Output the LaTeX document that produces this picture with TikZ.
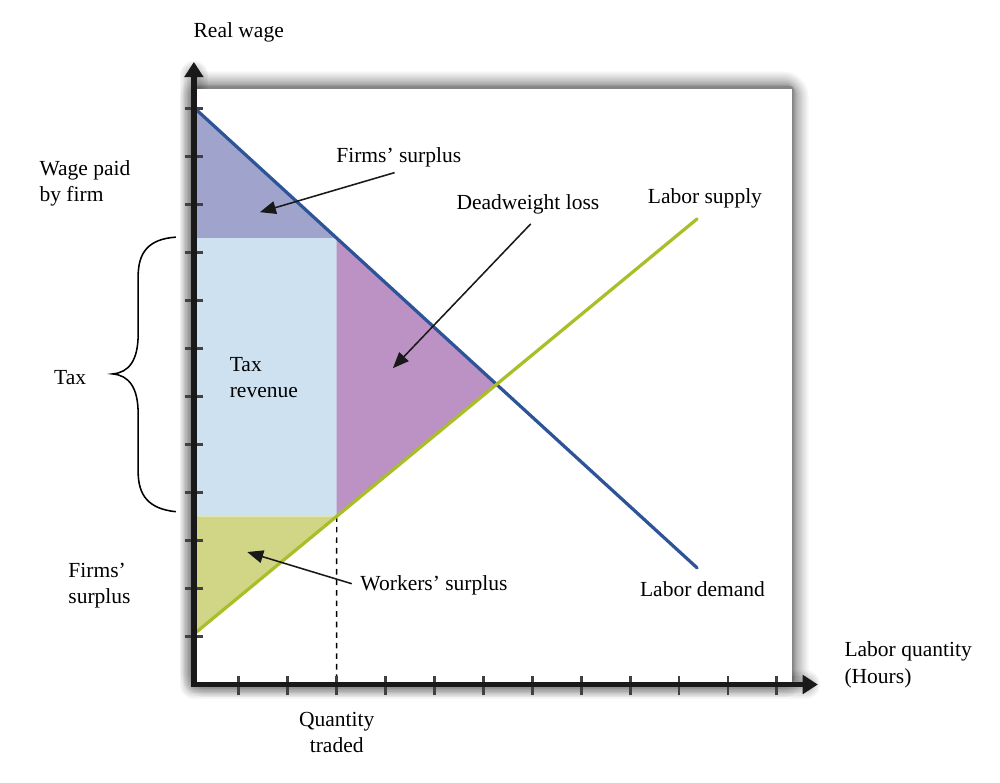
\documentclass[tikz,border=0pt]{standalone}
\usepackage{fontspec}
\setmainfont{Liberation Serif}
\usepackage{tikz}
\usetikzlibrary{positioning}
\usetikzlibrary{calc}
\usetikzlibrary{arrows.meta}
\usepackage{xcolor}

\definecolor{demandblue}{RGB}{46,84,152}
\definecolor{supplygreen}{RGB}{170,190,40}
\definecolor{firmfill}{RGB}{160,164,205}
\definecolor{taxfill}{RGB}{206,225,240}
\definecolor{dwlfill}{RGB}{188,145,195}
\definecolor{workfill}{RGB}{209,214,134}

\tikzset{
    axis/.style={line width=4pt, black!90, -{Triangle[length=3.8mm,width=4.6mm]}},
    tickmark/.style={line width=2pt, black!75},
    curve/.style={line width=2.3pt, line cap=round},
    lbl/.style={inner sep=1pt, font=\fontsize{15.3}{18.5}\selectfont},
    pointer/.style={line width=1.1pt, black!90, -{Triangle[length=4mm,width=3.2mm]}},
}

\begin{document}
\begin{tikzpicture}[x=1.2225cm, y=1.2cm]
        \useasboundingbox (-3.885,-2.031) rectangle (16.564,14.26);
        % glow round the axes and shadow of the plot box
        \foreach \w in {1,...,8}
            \draw[black, opacity=.035, line width=4pt+\w*2pt, line cap=round] (.08,0) -- (.08,12.7) (.08,0) -- (12.6,0);
        \coordinate (bsw) at (.08,0);
        \coordinate (bne) at (12.31,12.41);
        \foreach \k in {1,...,16}
            \fill[black, opacity=.04, rounded corners=\k*.4mm] ($(bsw)+(.03-\k*\k*.0012,.05-\k*\k*.0012)$) rectangle ($(bne)+(.03+\k*\k*.0012,.05+\k*\k*.0012)$);
        \fill[white] (bsw) rectangle (bne);

        % curves and the points on them
        \coordinate (d0) at (.08,12.02);
        \coordinate (d1) at (10.37,2.43);
        \coordinate (s0) at (.08,1.05);
        \coordinate (s1) at (10.37,9.7);
        \coordinate (q0) at (3,0);
        \coordinate (q1) at (3,12);
        \coordinate (eq) at (intersection of d0--d1 and s0--s1);
        \coordinate (wd) at (intersection of d0--d1 and q0--q1);
        \coordinate (ws) at (intersection of s0--s1 and q0--q1);

        \fill[firmfill] (d0) -- (wd) -- (wd -| bsw) -- cycle;
        \fill[taxfill] (wd -| bsw) rectangle (ws);
        \fill[dwlfill] (wd) -- (eq) -- (ws) -- cycle;
        \fill[workfill] (ws -| bsw) -- (ws) -- (s0) -- cycle;
        \draw[line width=1pt, dash pattern=on 4pt off 3.5pt] (ws) -- (q0);

        \foreach \i in {1,...,12}
        {
            \draw[tickmark] (-.1,\i) -- (.26,\i);
            \draw[tickmark] (\i,-.22) -- (\i,.18);
        }
        \draw[curve, demandblue] (d0) -- (d1);
        \draw[curve, supplygreen] (s0) -- (s1);
        \draw[axis] (.08,-.05) -- (.08,12.97);
        \draw[axis] (.03,0) -- (12.84,0);

        % brace for the tax
        \draw[line width=1.1pt] (-.29,9.32) .. controls (-.85,9.28) and (-1.06,9.0) .. (-1.06,8.5)
            -- (-1.06,7.3) .. controls (-1.06,6.75) and (-1.25,6.5) .. (-1.58,6.47)
            .. controls (-1.25,6.44) and (-1.06,6.19) .. (-1.06,5.64)
            -- (-1.06,4.44) .. controls (-1.06,3.94) and (-.85,3.66) .. (-.29,3.6);

        % labels
        \node[lbl, anchor=west] (ylab) at (.04,13.59) {Real wage};
        \node[lbl, anchor=west, align=left] (paidlab) at (-3.11,10.44) {Wage paid\\by firm};
        \node[lbl] (fslab) at (4.27,10.99) {Firms’ surplus};
        \node[lbl] (dwlab) at (6.91,10.01) {Deadweight loss};
        \node[lbl] (lslab) at (10.53,10.13) {Labor supply};
        \node[lbl] (ldlab) at (10.48,1.99) {Labor demand};
        \node[lbl] (wslab) at (4.99,2.07) {Workers’ surplus};
        \node[lbl] (taxlab) at (-2.45,6.39) {Tax};
        \node[lbl, anchor=west, align=left] (trlab) at (.78,6.39) {Tax\\revenue};
        \node[lbl, anchor=west, align=left] (fs2lab) at (-2.52,2.07) {Firms’\\surplus};
        \node[lbl, anchor=west, align=left] (xlab) at (13.35,.41) {Labor quantity\\(Hours)};
        \node[lbl, align=center] (qlab) at (3,-.99) {Quantity\\traded};

        % pointers
        \coordinate (fstip) at (1.43,9.84);
        \coordinate (dwtip) at (4.15,6.59);
        \coordinate (wstip) at (1.17,2.76);
        \draw[pointer] ([xshift=-3pt,yshift=-3pt]fslab.south) -- (fstip);
        \draw[pointer] ([xshift=2pt,yshift=-6pt]dwlab.south) -- (dwtip);
        \draw[pointer] ([xshift=-5pt,yshift=1pt]wslab.west) -- (wstip);
    \end{tikzpicture}
\end{document}
